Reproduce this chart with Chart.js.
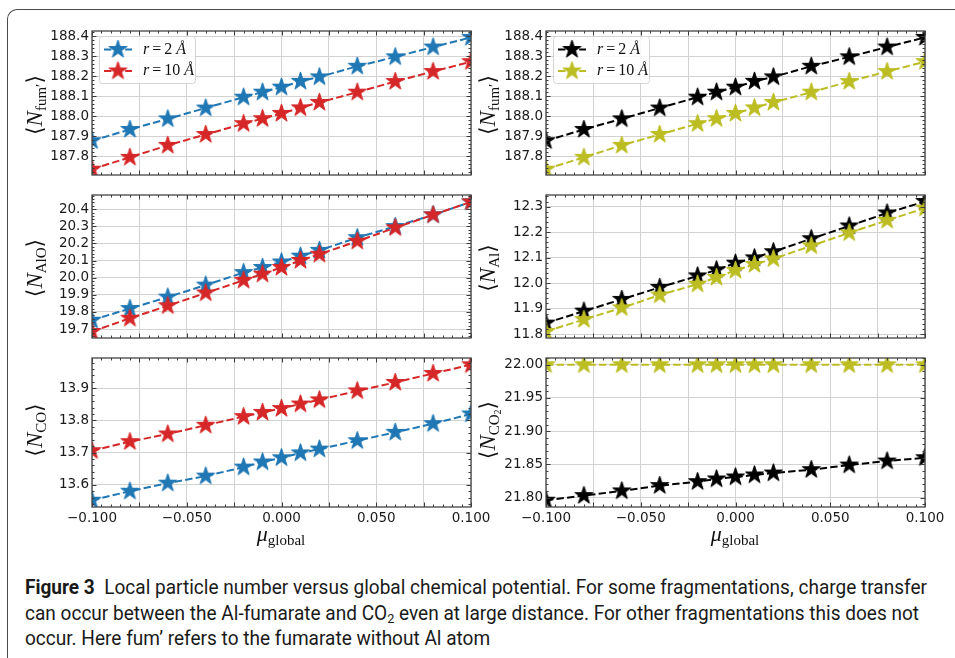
<!DOCTYPE html>
<html>
<head>
<meta charset="utf-8">
<script src="https://cdn.jsdelivr.net/npm/chart.js@4.4.1/dist/chart.umd.min.js"></script>
<style>
  body { margin: 0; background: #fff; }
  #fig { position: relative; width: 955px; height: 658px; overflow: hidden; background: #fff; }
  #frame { position: absolute; left: 7px; top: 9px; width: 980px; height: 680px;
           border-left: 1.5px solid #4a4a4a; border-top: 1.5px solid #4a4a4a; border-top-left-radius: 10px; }
  canvas.c { position: absolute; }
  .ylab { position: absolute; transform: translate(-50%, -50%) rotate(-90deg); white-space: nowrap; line-height: 1;
          font-family: "Liberation Serif", "DejaVu Serif", serif; font-size: 23px; color: #111; }
  .ylab .br { font-family: "DejaVu Serif", serif; font-size: 22px; font-weight: 200; }
  .ylab sub { font-size: 15px; vertical-align: -4px; font-style: normal; line-height: 0; }
  .ylab sub sub { font-size: 10px; vertical-align: -2px; }
  .xlab { position: absolute; transform: translateX(-50%); white-space: nowrap; line-height: 1;
          font-family: "Liberation Serif", "DejaVu Serif", serif; font-size: 22px; color: #111; }
  .xlab sub { font-size: 15px; vertical-align: -4px; line-height: 0; }
  #cap { position: absolute; left: 25px; top: 575px; transform-origin: 0 0;
         font-family: "Liberation Sans Narrow", "Roboto", sans-serif; font-size: 19.5px; line-height: 25.5px; color: #1a1a1a; white-space: nowrap; }
  #cap div { display: block; height: 25.5px; }
  #cap b { font-weight: bold; }
  #cap sub { font-size: 13px; vertical-align: -3px; line-height: 0; }
</style>
</head>
<body>
<div id="fig">
  <div id="frame"></div>
  <canvas class="c" id="p1"></canvas>
  <canvas class="c" id="p2"></canvas>
  <canvas class="c" id="p3"></canvas>
  <canvas class="c" id="p4"></canvas>
  <canvas class="c" id="p5"></canvas>
  <canvas class="c" id="p6"></canvas>

  <div class="ylab" style="left:34px; top:105px"><span class="br">⟨</span><i>N</i><sub>fum′</sub><span class="br">⟩</span></div>
  <div class="ylab" style="left:34px; top:268px"><span class="br">⟨</span><i>N</i><sub>AlO</sub><span class="br">⟩</span></div>
  <div class="ylab" style="left:34px; top:430px"><span class="br">⟨</span><i>N</i><sub>CO</sub><span class="br">⟩</span></div>
  <div class="ylab" style="left:487px; top:105px"><span class="br">⟨</span><i>N</i><sub>fum′</sub><span class="br">⟩</span></div>
  <div class="ylab" style="left:487px; top:268px"><span class="br">⟨</span><i>N</i><sub>Al</sub><span class="br">⟩</span></div>
  <div class="ylab" style="left:487px; top:430px"><span class="br">⟨</span><i>N</i><sub>CO<sub>2</sub></sub><span class="br">⟩</span></div>

  <div class="xlab" style="left:281px; top:523px"><i>μ</i><sub>global</sub></div>
  <div class="xlab" style="left:735px; top:523px"><i>μ</i><sub>global</sub></div>

  <div id="cap">
    <div id="l1"><b>Figure 3</b>&nbsp; Local particle number versus global chemical potential. For some fragmentations, charge transfer</div>
    <div>can occur between the Al-fumarate and CO<sub>2</sub> even at large distance. For other fragmentations this does not</div>
    <div>occur. Here fum’ refers to the fumarate without Al atom</div>
  </div>
</div>

<script>
// valores
const muGlobal = [-0.1, -0.08, -0.06, -0.04, -0.02, -0.01, 0, 0.01, 0.02, 0.04, 0.06, 0.08, 0.1];

const fumR2  = [187.878, 187.934, 187.987, 188.041, 188.095, 188.120, 188.145, 188.174, 188.196, 188.249, 188.296, 188.345, 188.393];
const fumR10 = [187.736, 187.795, 187.855, 187.909, 187.963, 187.988, 188.014, 188.042, 188.069, 188.120, 188.173, 188.223, 188.272];

const alOR2  = [19.752, 19.820, 19.887, 19.957, 20.030, 20.060, 20.092, 20.126, 20.160, 20.234, 20.299, 20.367, 20.443];
const alOR10 = [19.686, 19.763, 19.836, 19.911, 19.985, 20.021, 20.060, 20.101, 20.137, 20.213, 20.292, 20.367, 20.443];

const coR2  = [13.552, 13.580, 13.605, 13.627, 13.655, 13.671, 13.684, 13.699, 13.711, 13.737, 13.763, 13.790, 13.820];
const coR10 = [13.706, 13.734, 13.758, 13.785, 13.812, 13.825, 13.837, 13.851, 13.864, 13.892, 13.918, 13.946, 13.973];

const alR2  = [11.843, 11.890, 11.936, 11.983, 12.028, 12.052, 12.078, 12.099, 12.123, 12.174, 12.224, 12.275, 12.320];
const alR10 = [11.810, 11.857, 11.903, 11.953, 11.996, 12.022, 12.050, 12.073, 12.095, 12.146, 12.197, 12.246, 12.294];

const co2R2  = [21.796, 21.803, 21.810, 21.818, 21.824, 21.828, 21.831, 21.834, 21.837, 21.842, 21.849, 21.855, 21.860];
const co2R10 = [22.0, 22.0, 22.0, 22.0, 22.0, 22.0, 22.0, 22.0, 22.0, 22.0, 22.0, 22.0, 22.0];

// ticks
const xTicks   = [-0.1, -0.075, -0.05, -0.025, 0, 0.025, 0.05, 0.075, 0.1];
const fumTicks = [187.8, 187.9, 188.0, 188.1, 188.2, 188.3, 188.4];
const alOTicks = [19.7, 19.8, 19.9, 20.0, 20.1, 20.2, 20.3, 20.4];
const coTicks  = [13.6, 13.7, 13.8, 13.9];
const alTicks  = [11.8, 11.9, 12.0, 12.1, 12.2, 12.3];
const co2Ticks = [21.80, 21.85, 21.90, 21.95, 22.00];

const seriesLabels = ['r = 2 Å', 'r = 10 Å'];

const BLUE = '#1f77b4', RED = '#d62728', BLACK = '#000000', OLIVE = '#bcbd22';

// estrella rellena como pointStyle
function makeStar(color, R) {
  const c = document.createElement('canvas');
  const s = Math.ceil(R * 2 + 4);
  c.width = s; c.height = s;
  const g = c.getContext('2d');
  const r = R * 0.382;
  g.beginPath();
  for (let i = 0; i < 10; i++) {
    const a = -Math.PI / 2 + i * Math.PI / 5;
    const rr = i % 2 === 0 ? R : r;
    const px = s / 2 + rr * Math.cos(a), py = s / 2 + rr * Math.sin(a);
    if (i === 0) g.moveTo(px, py); else g.lineTo(px, py);
  }
  g.closePath();
  g.fillStyle = color; g.fill();
  g.strokeStyle = color; g.lineWidth = 1; g.stroke();
  return c;
}
const stars = {};
[BLUE, RED, BLACK, OLIVE].forEach(c => { stars[c] = makeStar(c, 9.5); });

// marco, ticks hacia adentro y leyenda
const frameTicks = {
  id: 'frameTicks',
  afterDatasetsDraw(chart, args, opts) {
    const ctx = chart.ctx, a = chart.chartArea;
    const xs = chart.scales.x, ys = chart.scales.y;
    ctx.save();
    ctx.strokeStyle = '#3a3a3a';
    ctx.lineWidth = 1;
    const drawX = (vals, len) => {
      vals.forEach(v => {
        const px = Math.round(xs.getPixelForValue(v)) + 0.5;
        ctx.beginPath();
        ctx.moveTo(px, a.bottom); ctx.lineTo(px, a.bottom - len);
        ctx.moveTo(px, a.top); ctx.lineTo(px, a.top + len);
        ctx.stroke();
      });
    };
    const drawY = (vals, len) => {
      vals.forEach(v => {
        const py = Math.round(ys.getPixelForValue(v)) + 0.5;
        ctx.beginPath();
        ctx.moveTo(a.left, py); ctx.lineTo(a.left + len, py);
        ctx.moveTo(a.right, py); ctx.lineTo(a.right - len, py);
        ctx.stroke();
      });
    };
    const minors = (ticks, min, max) => {
      const step = (ticks[1] - ticks[0]) / 5;
      const out = [];
      for (let k = -10; k < (ticks.length + 10) * 5; k++) {
        const v = ticks[0] + k * step;
        if (v >= min - 1e-9 && v <= max + 1e-9 && k % 5 !== 0) out.push(v);
      }
      return out;
    };
    const xv = xs.ticks.map(t => t.value), yv = ys.ticks.map(t => t.value);
    drawX(xv, 4.5);
    drawX(minors(xv, xs.min, xs.max), 2.5);
    drawY(yv, 4.5);
    drawY(minors(yv, ys.min, ys.max), 2.5);
    // spines
    ctx.lineWidth = 1.3;
    ctx.strokeStyle = '#444';
    ctx.strokeRect(a.left, a.top, a.right - a.left, a.bottom - a.top);

    if (opts.items) {
      const bx = a.left + 7, by = a.top + 5, bw = 96, bh = 47;
      ctx.beginPath();
      ctx.roundRect(bx + 0.5, by + 0.5, bw, bh, 3);
      ctx.fillStyle = 'rgba(255,255,255,0.85)';
      ctx.fill();
      ctx.strokeStyle = '#d4d4d4';
      ctx.lineWidth = 1;
      ctx.stroke();
      opts.items.forEach((it, i) => {
        const cy = by + 13.5 + i * 21.5;
        ctx.beginPath();
        ctx.setLineDash([7.4, 3.2]);
        ctx.strokeStyle = it.color;
        ctx.lineWidth = 2;
        ctx.moveTo(bx + 5, cy); ctx.lineTo(bx + 33, cy);
        ctx.stroke();
        ctx.setLineDash([]);
        const st = stars[it.color];
        ctx.drawImage(st, bx + 19 - st.width / 2, cy - st.height / 2);
        // texto: r = 2 Å
        ctx.fillStyle = '#111';
        ctx.textBaseline = 'middle';
        let tx = bx + 44;
        const parts = it.label.split(' ');
        ctx.font = 'italic 16px "Liberation Serif"';
        ctx.fillText(parts[0], tx, cy); tx += ctx.measureText(parts[0]).width + 3;
        ctx.font = '16px "Liberation Serif"';
        ctx.fillText('=', tx, cy); tx += ctx.measureText('=').width + 3;
        ctx.fillText(parts[2], tx, cy); tx += ctx.measureText(parts[2]).width + 4;
        ctx.font = 'italic 16px "Liberation Serif"';
        ctx.fillText(parts[3], tx, cy);
      });
    }
    ctx.restore();
  }
};

function fmtX(v) {
  const onLabel = Math.abs(Math.round(v / 0.05) * 0.05 - v) < 1e-9;
  if (!onLabel) return '';
  const s = Math.abs(v).toFixed(3);
  return v < -1e-9 ? '\u2212' + s : s;
}

const panels = [
  { id: 'p1', left: 30,  top: 20,  h: 166, pt: 8, pb: 4, xh: 0,  a: fumR2, b: fumR10, ca: BLUE,  cb: RED,   min: 187.707, max: 188.425, ticks: fumTicks, dec: 1, legend: true,  xlab: false },
  { id: 'p2', left: 30,  top: 184, h: 165, pt: 6, pb: 4, xh: 0,  a: alOR2, b: alOR10, ca: BLUE,  cb: RED,   min: 19.648,  max: 20.483,  ticks: alOTicks, dec: 1, legend: false, xlab: false },
  { id: 'p3', left: 30,  top: 347, h: 200, pt: 6, pb: 0, xh: 40, a: coR2,  b: coR10,  ca: BLUE,  cb: RED,   min: 13.531,  max: 13.994,  ticks: coTicks,  dec: 1, legend: false, xlab: true },
  { id: 'p4', left: 484, top: 20,  h: 166, pt: 8, pb: 4, xh: 0,  a: fumR2, b: fumR10, ca: BLACK, cb: OLIVE, min: 187.707, max: 188.425, ticks: fumTicks, dec: 1, legend: true,  xlab: false },
  { id: 'p5', left: 484, top: 184, h: 165, pt: 6, pb: 4, xh: 0,  a: alR2,  b: alR10,  ca: BLACK, cb: OLIVE, min: 11.7845, max: 12.3455, ticks: alTicks,  dec: 1, legend: false, xlab: false },
  { id: 'p6', left: 484, top: 347, h: 200, pt: 6, pb: 0, xh: 40, a: co2R2, b: co2R10, ca: BLACK, cb: OLIVE, min: 21.7858, max: 22.0102, ticks: co2Ticks, dec: 2, legend: false, xlab: true }
];

const W = 470, YW = 62, PADR = 29;

panels.forEach(p => {
  const cv = document.getElementById(p.id);
  cv.width = W; cv.height = p.h;
  cv.style.left = p.left + 'px';
  cv.style.top = p.top + 'px';

  const mkDs = (vals, color, label, order) => ({
    label: label,
    data: muGlobal.map((x, i) => ({ x: x, y: vals[i] })),
    borderColor: color,
    backgroundColor: color,
    borderWidth: 2,
    borderDash: [7.4, 3.2],
    pointStyle: stars[color],
    pointRadius: 9,
    tension: 0,
    fill: false,
    clip: 0,
    order: order
  });

  new Chart(cv, {
    type: 'line',
    data: { datasets: [mkDs(p.a, p.ca, seriesLabels[0], 1), mkDs(p.b, p.cb, seriesLabels[1], 0)] },
    options: {
      responsive: false,
      animation: false,
      devicePixelRatio: 1,
      layout: { padding: { left: 0, right: PADR, top: p.pt, bottom: p.pb } },
      plugins: {
        legend: { display: false },
        tooltip: { enabled: false },
        frameTicks: p.legend ? { items: [{ label: seriesLabels[0], color: p.ca }, { label: seriesLabels[1], color: p.cb }] } : {}
      },
      scales: {
        x: {
          type: 'linear',
          min: -0.1, max: 0.1,
          bounds: 'data',
          afterBuildTicks: s => { s.ticks = xTicks.map(v => ({ value: v })); },
          afterFit: s => { s.height = p.xh; s.paddingLeft = 0; s.paddingRight = 0; },
          grid: { color: '#d2d2d2', lineWidth: 1, drawTicks: false },
          border: { display: false },
          ticks: {
            display: p.xlab,
            padding: 3,
            maxRotation: 0,
            autoSkip: false,
            color: '#1a1a1a',
            font: { family: '"DejaVu Sans"', size: 13.5 },
            callback: v => fmtX(v)
          }
        },
        y: {
          type: 'linear',
          min: p.min, max: p.max,
          bounds: 'data',
          afterBuildTicks: s => { s.ticks = p.ticks.map(v => ({ value: v })); },
          afterFit: s => { s.width = YW; s.paddingTop = 0; s.paddingBottom = 0; },
          grid: { color: '#d2d2d2', lineWidth: 1, drawTicks: false },
          border: { display: false },
          ticks: {
            padding: 3,
            autoSkip: false,
            color: '#1a1a1a',
            font: { family: '"DejaVu Sans"', size: 13.5 },
            callback: v => v.toFixed(p.dec)
          }
        }
      }
    },
    plugins: [frameTicks]
  });
});

// ajustar el ancho del pie de figura
const cap = document.getElementById('cap');
const l1 = document.getElementById('l1');
const range = document.createRange();
range.selectNodeContents(l1);
const w1 = range.getBoundingClientRect().width;
if (w1 > 0) cap.style.transform = 'scaleX(' + (902 / w1) + ')';
</script>
</body>
</html>
